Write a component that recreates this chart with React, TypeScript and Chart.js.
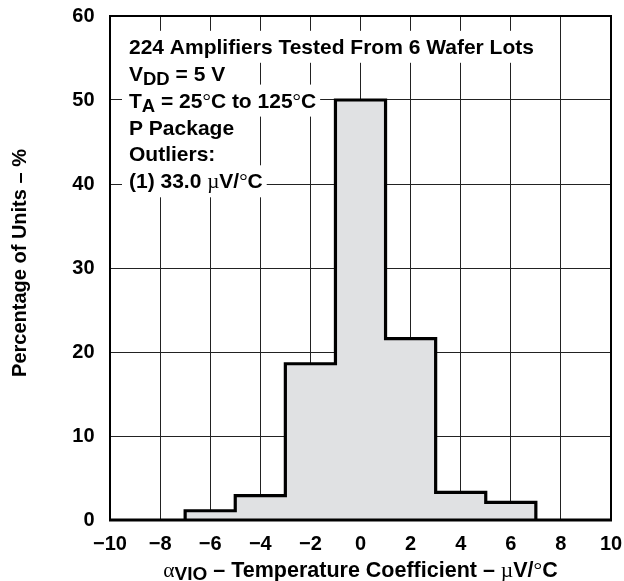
import { useEffect, useRef } from 'react';
import { Chart, registerables } from 'chart.js';

Chart.register(...registerables);

// histogram bins (µV/°C) and share of units in each bin (%)
const binEdges = [-7, -5, -3, -1, 1, 3, 5, 7];
const percentages = [1.1, 2.9, 18.6, 50, 21.6, 3.3, 2.1];

const xTicks = [-10, -8, -6, -4, -2, 0, 2, 4, 6, 8, 10];
const yTicks = [0, 10, 20, 30, 40, 50, 60];

const SANS = '"Liberation Sans", Arial, Helvetica, sans-serif';
const SERIF = '"Liberation Serif", "Times New Roman", serif';
const MAIN = `bold 21px ${SANS}`;
const SUB = `bold 18.5px ${SANS}`;
const SYM = `21px ${SERIF}`;

type Run = { text: string; font?: string; dy?: number };

const noteLines: Run[][] = [
    [{ text: '224 Amplifiers Tested From 6 Wafer Lots' }],
    [{ text: 'V' }, { text: 'DD', font: SUB, dy: 4 }, { text: ' = 5 V' }],
    [
        { text: 'T' }, { text: 'A', font: SUB, dy: 4 }, { text: ' = 25' },
        { text: '°', font: SYM }, { text: 'C to 125' }, { text: '°', font: SYM }, { text: 'C' },
    ],
    [{ text: 'P Package' }],
    [{ text: 'Outliers:' }],
    [{ text: '(1) 33.0 ' }, { text: 'µ', font: SYM }, { text: 'V/' }, { text: '°', font: SYM }, { text: 'C' }],
];

const xTitle: Run[] = [
    { text: 'α', font: `21.5px ${SERIF}` },
    { text: 'VIO', font: `bold 19px ${SANS}`, dy: 3 },
    { text: ' – Temperature Coefficient – ', font: `bold 21.5px ${SANS}` },
    { text: 'µ', font: `21.5px ${SERIF}` },
    { text: 'V/', font: `bold 21.5px ${SANS}` },
    { text: '°', font: `21.5px ${SERIF}` },
    { text: 'C', font: `bold 21.5px ${SANS}` },
];

function runsWidth(ctx: CanvasRenderingContext2D, runs: Run[]) {
    let w = 0;
    for (const r of runs) {
        ctx.font = r.font ?? MAIN;
        w += ctx.measureText(r.text).width;
    }
    return w;
}

function drawRuns(ctx: CanvasRenderingContext2D, x: number, y: number, runs: Run[]) {
    for (const r of runs) {
        ctx.font = r.font ?? MAIN;
        ctx.fillText(r.text, x, y + (r.dy ?? 0));
        x += ctx.measureText(r.text).width;
    }
}

// white-backed text block in the upper left of the plot
const notesPlugin = {
    id: 'notes',
    beforeDatasetsDraw(chart: any) {
        const { ctx, chartArea: a } = chart;
        ctx.save();
        ctx.textAlign = 'left';
        ctx.textBaseline = 'alphabetic';
        const bases = noteLines.map((_, i) => a.top + 37.8 + i * 26.9);
        // backgrounds first so descenders are not covered
        ctx.fillStyle = '#fff';
        noteLines.forEach((runs, i) => {
            const w = runsWidth(ctx, runs);
            ctx.fillRect(a.left + 12, bases[i] - 23, w + 11, 32);
        });
        ctx.fillStyle = '#000';
        noteLines.forEach((runs, i) => drawRuns(ctx, a.left + 19, bases[i], runs));
        ctx.restore();
    },
};

const framePlugin = {
    id: 'frame',
    afterDatasetsDraw(chart: any) {
        const { ctx, chartArea: a } = chart;
        ctx.save();
        ctx.strokeStyle = '#000';
        ctx.lineWidth = 2;
        ctx.strokeRect(a.left, a.top, a.right - a.left, a.bottom - a.top);
        ctx.lineWidth = 3;
        ctx.beginPath();
        ctx.moveTo(a.left - 1, a.bottom);
        ctx.lineTo(a.right + 1, a.bottom);
        ctx.stroke();
        ctx.restore();
    },
};

const titlesPlugin = {
    id: 'titles',
    afterDraw(chart: any) {
        const { ctx, chartArea: a } = chart;
        ctx.save();
        ctx.fillStyle = '#000';
        ctx.textBaseline = 'alphabetic';
        // y axis title
        ctx.save();
        ctx.translate(26, (a.top + a.bottom) / 2 - 5);
        ctx.rotate(-Math.PI / 2);
        ctx.textAlign = 'center';
        ctx.font = `bold 20px ${SANS}`;
        ctx.fillText('Percentage of Units – %', 0, 0);
        ctx.restore();
        // x axis title
        ctx.textAlign = 'left';
        const w = runsWidth(ctx, xTitle);
        drawRuns(ctx, (a.left + a.right) / 2 - w / 2, 576.5, xTitle);
        ctx.restore();
    },
};

export default function App() {
    const canvasRef = useRef<HTMLCanvasElement | null>(null);

    useEffect(() => {
        document.body.style.margin = '0';
        if (!canvasRef.current) return;

        // stepped 'after': each point's value covers the bin that ends at it
        const outline = [
            { x: binEdges[0], y: 0 },
            ...percentages.map((p, i) => ({ x: binEdges[i + 1], y: p })),
            { x: binEdges[binEdges.length - 1], y: 0 },
        ];

        const tickFont = { family: SANS, size: 20, weight: 'bold' as const };

        const chart = new Chart(canvasRef.current, {
            type: 'line',
            data: {
                datasets: [{
                    data: outline,
                    stepped: 'after',
                    fill: 'origin',
                    backgroundColor: '#e0e1e3',
                    borderColor: '#000',
                    borderWidth: 3.2,
                    borderJoinStyle: 'miter',
                    pointRadius: 0,
                    clip: false as any,
                }],
            },
            options: {
                animation: false,
                responsive: true,
                maintainAspectRatio: false,
                layout: { padding: { top: 16, right: 13, left: 0, bottom: 0 } },
                plugins: {
                    legend: { display: false },
                    tooltip: { enabled: false },
                },
                scales: {
                    x: {
                        type: 'linear',
                        min: -10,
                        max: 10,
                        afterBuildTicks: (s: any) => { s.ticks = xTicks.map(v => ({ value: v })); },
                        afterFit: (s: any) => { s.height = 61; s.paddingLeft = 0; s.paddingRight = 0; },
                        grid: { color: '#222', lineWidth: 1, drawTicks: false },
                        border: { display: false },
                        ticks: {
                            padding: 12,
                            color: '#000',
                            font: tickFont,
                            maxRotation: 0,
                            callback: (v: any) => String(v).replace('-', '\u2212'),
                        },
                    },
                    y: {
                        type: 'linear',
                        min: 0,
                        max: 60,
                        afterBuildTicks: (s: any) => { s.ticks = yTicks.map(v => ({ value: v })); },
                        afterFit: (s: any) => { s.width = 110; s.paddingTop = 0; s.paddingBottom = 0; },
                        grid: { color: '#222', lineWidth: 1, drawTicks: false },
                        border: { display: false },
                        ticks: { padding: 15.5, color: '#000', font: tickFont },
                    },
                },
            },
            plugins: [notesPlugin, framePlugin, titlesPlugin],
        });

        return () => chart.destroy();
    }, []);

    return (
        <div style={{ position: 'relative', width: 624, height: 581, background: '#fff' }}>
            <canvas ref={canvasRef}></canvas>
        </div>
    );
}
